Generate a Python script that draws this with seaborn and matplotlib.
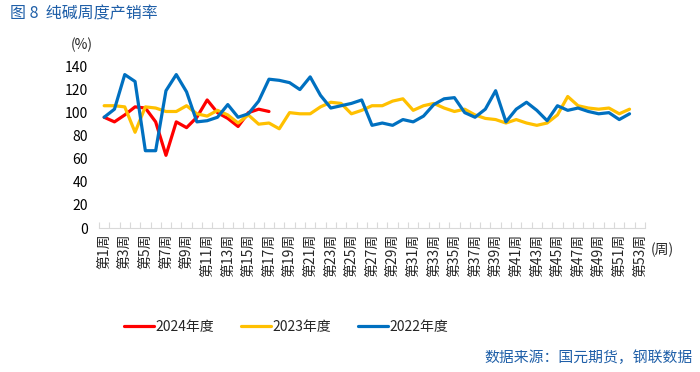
import numpy as np
import pandas as pd
import matplotlib
matplotlib.use("Agg")
import matplotlib.pyplot as plt
import seaborn as sns

# DATA

weeks = ["第%d周" % i for i in range(1, 54)]

rate_2024 = [96, 92, 98, 105, 104, 92, 63, 92, 87, 96, 111, 100, 95, 88, 100, 103, 101]

rate_2023 = [106, 106, 105, 83, 105, 104, 101, 101, 106, 99, 97, 102, 98, 91, 98, 90, 91,
             86, 100, 99, 99, 105, 109, 108, 99, 102, 106, 106, 110, 112, 102, 106, 108,
             104, 101, 103, 98, 95, 94, 91, 94, 91, 89, 91, 98, 114, 106, 104, 103, 104,
             99, 103]

rate_2022 = [96, 103, 133, 127, 67, 67, 119, 133, 118, 92, 93, 96, 107, 96, 99, 110, 129,
             128, 126, 120, 131, 115, 104, 106, 108, 111, 89, 91, 89, 94, 92, 97, 107,
             112, 113, 100, 96, 103, 119, 92, 103, 109, 102, 93, 106, 102, 104, 101, 99,
             100, 94, 99]

years = ["2024年度", "2023年度", "2022年度"]
colors = ["#FF0000", "#FFC000", "#0070C0"]

# LONG TABLE FOR SEABORN

frames = []
for name, vals in zip(years, [rate_2024, rate_2023, rate_2022]):
    frames.append(pd.DataFrame({
        "pos": np.arange(len(vals)),
        "rate": vals,
        "year": name
    }))
df = pd.concat(frames, ignore_index=True)

# PLOT

sns.set_theme(style="white")
plt.rcParams["font.family"] = ["Noto Sans CJK SC", "DejaVu Sans"]

fig = plt.figure(figsize=(7, 3.72), dpi=100)
ax = fig.add_axes([99 / 700, 144 / 372, 546 / 700, 161.5 / 372])

sns.lineplot(
    data=df,
    x="pos",
    y="rate",
    hue="year",
    hue_order=years,
    palette=colors,
    linewidth=2.3,
    ax=ax,
    legend=True
)

ax.set_xlim(-0.5, 52.5)
ax.set_ylim(0, 140)
ax.set_yticks(range(0, 141, 20))
ax.tick_params(axis="y", labelsize=10, length=0, pad=8, labelcolor="#000000")

ax.set_xticks(range(0, 53, 2))
ax.set_xticklabels(weeks[::2], rotation=90, fontsize=10)
ax.set_xticks(np.arange(-0.5, 53, 1), minor=True)
ax.tick_params(axis="x", which="major", length=0, pad=4)
ax.tick_params(axis="x", which="minor", length=4, color="#D9D9D9", width=0.8,
               direction="in", bottom=True)
for lab in ax.get_xticklabels():
    lab.set_verticalalignment("top")

ax.set_xlabel("")
ax.set_ylabel("")
for side in ["top", "right", "left"]:
    ax.spines[side].set_visible(False)
ax.spines["bottom"].set_color("#D9D9D9")
ax.spines["bottom"].set_linewidth(0.8)

# LEGEND

handles, labels = ax.get_legend_handles_labels()
ax.legend(
    handles, labels,
    loc="center",
    bbox_to_anchor=(286 / 700, 1 - 327 / 372),
    bbox_transform=fig.transFigure,
    ncol=3,
    frameon=False,
    fontsize=10,
    handlelength=2.2,
    handletextpad=0.1,
    columnspacing=1.9
)

# TEXTS

fig.text(10 / 700, 1 - 14 / 372, "图 8  纯碱周度产销率", fontsize=11.5,
         color="#1F5FA8", va="center", ha="left")
fig.text(82 / 700, 1 - 45 / 372, "(%)", fontsize=10, va="center", ha="center")
fig.text(662 / 700, 1 - 250 / 372, "(周)", fontsize=10, va="center", ha="center")
fig.text(693 / 700, 1 - 358 / 372, "数据来源：国元期货，钢联数据", fontsize=10.7,
         color="#1F5FA8", va="center", ha="right")

fig.savefig("out.png", dpi=100)
plt.close(fig)
